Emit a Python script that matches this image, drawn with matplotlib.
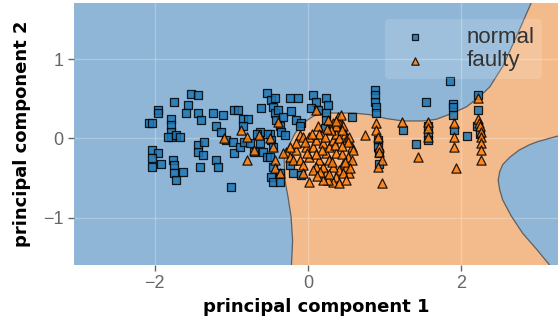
import matplotlib
matplotlib.use('Agg')
import matplotlib.pyplot as plt

# class 0 ("normal") points
normal_x = [-2.07, -2.03, -1.96, -1.96, -1.74, -1.57, -1.59, -1.52, -1.43, -1.43, -1.39,
            -1.78, -1.78, -1.78, -1.78, -1.83, -1.72, -1.67,
            -2.03, -1.96, -2.03, -2.03, -1.91, -1.76, -1.74, -1.74, -1.72, -1.63,
            -1.43, -1.43, -1.37, -1.35, -1.41,
            -1.24, -1.11, -1.20, -1.13, -1.20, -1.17,
            -1.07, -0.98, -0.96, -0.91, -0.85, -0.78, -0.85, -1.00,
            -0.96, -0.89, -0.83, -0.76, -0.70, -0.63, -0.59, -0.54,
            -0.61, -0.54, -0.48, -0.43, -0.46, -0.43, -0.39, -0.41, -0.37, -0.33, -0.35, -0.30,
            -0.24, -0.13, -0.22, -0.15, -0.09, -0.11,
            -0.50, -0.48, -0.46, -0.50, -0.46, -0.48, -0.46, -0.37, -0.37,
            -0.24, -0.20, -0.09,
            0.07, 0.11, 0.04, 0.13, 0.24, 0.26, 0.24, 0.24, 0.22, 0.57,
            -0.54, -0.63, -0.67,
            0.87, 0.87, 0.87, 0.89, 0.89, 0.91, 0.91, 0.93, 0.93,
            1.54, 1.41, 1.24, 1.57, 1.57, 1.57,
            1.85, 1.89, 1.89, 1.89, 1.91, 2.07,
            2.22, 2.22, 2.20, 2.24]
normal_y = [0.19, 0.20, 0.36, 0.32, 0.46, 0.42, 0.32, 0.56, 0.55, 0.32, 0.23,
            0.25, 0.17, 0.08, 0.02, 0.02, 0.04, 0.02,
            -0.15, -0.19, -0.25, -0.36, -0.32, -0.27, -0.34, -0.44, -0.53, -0.43,
            -0.08, -0.17, -0.21, -0.04, -0.36,
            0.32, 0.30, 0.15, 0.08, -0.27, -0.36,
            -0.02, -0.04, 0.36, 0.36, 0.25, 0.25, 0.15, -0.61,
            -0.19, -0.11, -0.04, -0.06, -0.17, -0.06, -0.17, -0.23,
            0.38, 0.57, 0.49, 0.51, 0.40, 0.32, 0.36, 0.23, 0.15, 0.27, 0.08, 0.04,
            0.51, 0.51, 0.34, 0.23, 0.19, 0.15,
            0.06, -0.02, -0.11, -0.23, -0.36, -0.49, -0.55, -0.55, -0.44,
            -0.34, -0.44, -0.46,
            0.55, 0.46, 0.38, 0.36, 0.51, 0.42, 0.32, 0.23, 0.13, 0.27,
            0.06, 0.08, 0.06,
            0.61, 0.55, 0.46, 0.40, 0.32, -0.02, -0.11, -0.19, -0.32,
            0.46, -0.07, 0.10, 0.06, -0.02, 0.15,
            0.72, 0.44, 0.40, 0.30, 0.11, 0.03,
            0.55, 0.36, 0.15, 0.06]

# class 1 ("faulty") points
faulty_x = [-0.87, -0.80, -0.64, -0.70, -0.80, -1.09, -0.50, -0.46, -0.39, -0.43, -0.43, -0.37, 0.02, 0.11,
            -0.28, -0.24, -0.20, -0.15, -0.11, -0.07, -0.02, -0.11, -0.07, 0.02, 0.07, 0.11, 0.13, 0.15,
            0.20, 0.24, 0.28, 0.33, 0.37, 0.39, 0.41, 0.43, 0.46, 0.48, 0.50, 0.54, 0.57, 0.59, 0.52,
            0.46, 0.41, 0.37, 0.33, 0.26, 0.24, 0.20, 0.15, 0.11, 0.07, 0.28, 0.37, 0.50, 0.54, 0.46,
            0.33, 0.22, 0.33, 0.37, 0.02, -0.04, -0.15, -0.24, -0.33, -0.07, 0.26, 0.57, 0.41, 0.20, 0.50,
            0.30, 0.35, 0.44, 0.18, 0.10, 0.05, 0.40, 0.48, 0.28, 0.16, 0.36, 0.44, 0.52, 0.25, 0.12,
            -0.01, 0.31, 0.45, 0.55,
            0.74, 0.96, 0.89, 0.89, 0.91, 0.93, 0.93, 0.96, 0.91,
            1.22, 1.57, 1.57, 1.57, 1.43,
            1.91, 1.91, 1.91, 1.93,
            2.22, 2.22, 2.23, 2.24, 2.25, 2.26, 2.26, 2.26, 2.26]
faulty_y = [0.11, 0.02, 0.04, -0.15, -0.27, 0.00, 0.00, -0.11, 0.21, -0.27, -0.38, -0.44, -0.55, 0.36,
            -0.17, -0.23, -0.27, -0.15, 0.04, 0.02, -0.11, -0.27, -0.34, -0.23, -0.11, -0.02, 0.15, 0.06,
            -0.06, -0.19, -0.11, -0.02, 0.06, 0.27, 0.19, 0.30, 0.15, 0.06, -0.02, 0.02, -0.11, -0.15, -0.23,
            -0.32, -0.40, -0.49, -0.55, -0.53, -0.44, -0.36, -0.27, -0.36, -0.40, -0.27, -0.19, -0.36, -0.44, -0.44,
            -0.36, 0.02, 0.19, 0.15, 0.02, -0.04, -0.06, -0.11, -0.19, -0.44, 0.23, -0.27, -0.57, -0.53, -0.53,
            0.10, -0.08, -0.20, -0.15, -0.20, 0.05, 0.00, -0.30, -0.45, -0.42, 0.22, 0.10, -0.05, 0.12, -0.48,
            -0.18, -0.30, -0.10, -0.38,
            0.04, -0.57, 0.19, 0.11, 0.02, -0.11, -0.17, -0.27, -0.36,
            0.21, 0.21, 0.13, 0.02, -0.23,
            0.19, 0.02, -0.11, -0.38,
            0.51, 0.25, 0.19, 0.15, 0.08, 0.02, -0.06, -0.15, -0.27]

# decision boundary (upper/left curve, top edge to bottom edge)
upper_bx = [2.95, 2.91, 2.72, 2.54, 2.37, 2.24, 2.07, 1.89, 1.67, 1.50, 1.24, 1.02, 0.80, 0.59,
            0.37, 0.20, 0.07, -0.07, -0.17, -0.26, -0.31, -0.30, -0.26, -0.22, -0.20, -0.22]
upper_by = [1.80, 1.71, 1.29, 0.91, 0.65, 0.53, 0.40, 0.32, 0.24, 0.22, 0.22, 0.25, 0.30, 0.32,
            0.32, 0.32, 0.28, 0.19, 0.06, -0.11, -0.27, -0.53, -0.74, -0.99, -1.29, -1.70]
# lower right blue pocket, right edge to bottom edge
right_bx = [3.40, 3.26, 3.00, 2.89, 2.75, 2.63, 2.54, 2.50, 2.48, 2.50, 2.54, 2.65, 2.80, 2.98, 3.15, 3.22]
right_by = [0.05, 0.03, -0.04, -0.08, -0.15, -0.24, -0.33, -0.42, -0.53, -0.65, -0.78, -0.98, -1.20, -1.40, -1.60, -1.70]

blue_bg = '#8fb6d6'
orange_bg = '#f3ba8b'

plt.rcParams['font.family'] = ['Liberation Sans', 'DejaVu Sans']
fig = plt.figure(figsize=(5.58, 3.21), dpi=100)
ax = fig.add_axes([74 / 558, 56 / 321, 484 / 558, 262 / 321])
ax.set_facecolor(blue_bg)

# orange region = upper curve, then right pocket in reverse, then top right corner
poly_x = upper_bx + right_bx[::-1] + [3.40, 3.40]
poly_y = upper_by + right_by[::-1] + [0.05, 1.80]
ax.fill(poly_x, poly_y, color=orange_bg, zorder=0.2, lw=0)
ax.plot(upper_bx, upper_by, color='#5f5f5f', lw=0.9, zorder=0.6)
ax.plot(right_bx, right_by, color='#5f5f5f', lw=0.9, zorder=0.6)

ax.set_axisbelow(True)
ax.grid(True, color='white', alpha=0.25, lw=1)

ax.scatter(normal_x, normal_y, marker='s', s=38, c='#1f77b4', alpha=0.85,
           edgecolors='black', linewidths=0.9, label='normal', zorder=2)
ax.scatter(faulty_x, faulty_y, marker='^', s=44, c='#ff7f0e', alpha=0.85,
           edgecolors='black', linewidths=0.9, label='faulty', zorder=2)

ax.set_xlim(-3.05, 3.26)
ax.set_ylim(-1.60, 1.71)
ax.set_xticks([-2, 0, 2])
ax.set_yticks([-1, 0, 1])
ax.tick_params(labelsize=13, colors='#666666', length=4, width=1)
for s in ax.spines.values():
    s.set_visible(False)

ax.set_xlabel('principal component 1', fontsize=13, fontweight='bold',
              family='DejaVu Sans', labelpad=4)
ax.set_ylabel('principal component 2', fontsize=13, fontweight='bold',
              family='DejaVu Sans', labelpad=9)

leg = ax.legend(loc='upper right', fontsize=16, markerscale=0.8, frameon=True,
                borderpad=0.35, labelspacing=0.1, handletextpad=1.3,
                bbox_to_anchor=(0.99, 0.98))
leg.get_frame().set_facecolor('white')
leg.get_frame().set_alpha(0.15)
leg.get_frame().set_edgecolor('none')
for t in leg.get_texts():
    t.set_color('#333333')

fig.savefig('out.png', dpi=100)
